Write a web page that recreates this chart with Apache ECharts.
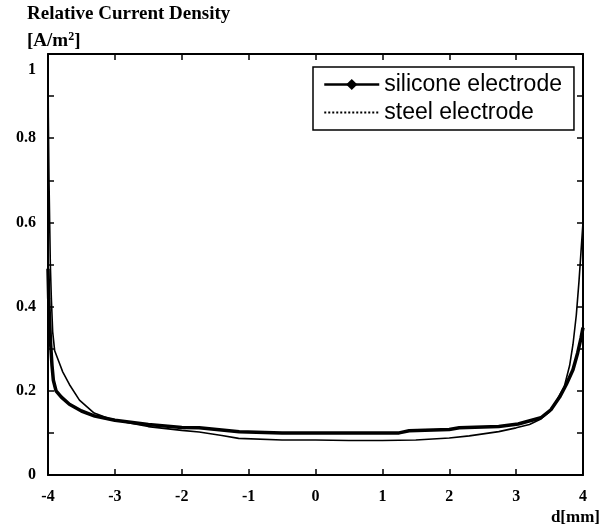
<!DOCTYPE html>
<html>
<head>
<meta charset="utf-8">
<script src="https://cdn.jsdelivr.net/npm/echarts@6/dist/echarts.min.js"></script>
<style>
html,body{margin:0;padding:0;background:#fff;}
#chart{width:603px;height:529px;}
</style>
</head>
<body>
<div id="chart"></div>
<script>
// Data
var siliconeX = [-4.00,-3.995,-3.985,-3.975,-3.965,-3.95,-3.93,-3.90,-3.84,-3.78,-3.68,-3.53,-3.31,-3.1,-2.8,-2.5,-2.0,-1.74,-1.4,-1.15,-0.5,0,0.5,1.0,1.5,2.0,2.3,2.74,3.0,3.2,3.37,3.5,3.6,3.72,3.80,3.85,3.90,3.94,3.97,4.0];
var siliconeY = [1.0,0.85,0.7,0.6,0.5,0.42,0.34,0.295,0.27,0.245,0.215,0.178,0.147,0.135,0.124,0.115,0.106,0.102,0.094,0.087,0.083,0.083,0.082,0.082,0.083,0.088,0.093,0.103,0.112,0.12,0.133,0.15,0.175,0.21,0.26,0.31,0.38,0.46,0.53,0.6];
var steelX = [-4.00,-3.99,-3.975,-3.96,-3.94,-3.92,-3.88,-3.80,-3.68,-3.5,-3.3,-3.0,-2.5,-2.0,-1.74,-1.14,-0.5,0,0.5,1.25,1.4,2.0,2.15,2.74,3.03,3.37,3.52,3.65,3.75,3.85,3.92,3.97,4.0];
var steelY = [0.49,0.42,0.36,0.31,0.26,0.225,0.2,0.185,0.168,0.152,0.14,0.13,0.12,0.113,0.112,0.103,0.1,0.1,0.1,0.1,0.105,0.108,0.112,0.115,0.121,0.136,0.155,0.185,0.215,0.25,0.29,0.325,0.35];
var seriesNames = ['silicone electrode', 'steel electrode'];
var xTicks = [-4, 4, 1];
var yTicks = [0, 1, 0.1];

function pairs(xs, ys){ return xs.map(function(x,i){ return [x, ys[i]]; }); }

var serif = '"Liberation Serif", "Times New Roman", serif';
var sans = '"Liberation Sans", Arial, sans-serif';

var chart = echarts.init(document.getElementById('chart'));
var axisLine = {show:true, onZero:false, lineStyle:{color:'#000', width:2}};
var tick = {show:true, inside:true, length:6, lineStyle:{color:'#000', width:1.5}};

chart.setOption({
  animation:false,
  backgroundColor:'#fff',
  grid:{left:48, right:20, top:54, bottom:54, containLabel:false},
  legend:{
    orient:'vertical', left:313, top:67,
    padding:[6,12,6,10],
    itemWidth:55, itemHeight:14, itemGap:5,
    borderColor:'#000', borderWidth:1.5, backgroundColor:'#fff',
    textStyle:{fontFamily:sans, fontSize:23, color:'#000'},
    data:[
      {name:seriesNames[0], lineStyle:{width:2.5, color:'#000', type:'solid'}, itemStyle:{color:'#000'}},
      {name:seriesNames[1], lineStyle:{width:2, color:'#000', type:'dotted', opacity:1}, itemStyle:{opacity:0}}
    ]
  },
  xAxis:[
    {type:'value', min:xTicks[0], max:xTicks[1], interval:xTicks[2], position:'bottom',
     axisLine:axisLine, axisTick:tick, splitLine:{show:false},
     axisLabel:{color:'#000', fontFamily:serif, fontWeight:'bold', fontSize:16, margin:14}},
    {type:'value', min:xTicks[0], max:xTicks[1], interval:xTicks[2], position:'top',
     axisLine:axisLine, axisTick:tick, splitLine:{show:false}, axisLabel:{show:false}}
  ],
  yAxis:[
    {type:'value', min:yTicks[0], max:yTicks[1], interval:yTicks[2], position:'left',
     axisLine:axisLine, axisTick:tick, splitLine:{show:false},
     axisLabel:{color:'#000', fontFamily:serif, fontWeight:'bold', fontSize:16, margin:12,
       formatter:function(v){
         var k = Math.round(v*10);
         if (k % 2) return '';
         if (k === 10) return '{one|1}';
         return k === 0 ? '0' : (k/10).toFixed(1);
       },
       rich:{one:{fontFamily:serif, fontWeight:'bold', fontSize:16, color:'#000', padding:[32,0,0,0]}}
     }},
    {type:'value', min:yTicks[0], max:yTicks[1], interval:yTicks[2], position:'right',
     axisLine:axisLine, axisTick:tick, splitLine:{show:false}, axisLabel:{show:false}}
  ],
  series:[
    {name:seriesNames[0], type:'line', data:pairs(siliconeX, siliconeY),
     symbol:'diamond', symbolSize:9, showSymbol:false,
     lineStyle:{color:'#000', width:1.6}, itemStyle:{color:'#000'}},
    {name:seriesNames[1], type:'line', data:pairs(steelX, steelY),
     symbol:'none', showSymbol:false,
     lineStyle:{color:'#000', width:3.5}, itemStyle:{color:'#000'}}
  ],
  graphic:[
    {type:'text', left:27, top:5, style:{text:'Relative Current Density', font:'bold 19px ' + serif, fill:'#000'}},
    {type:'text', left:27, top:31, style:{
      text:'{a|[A/m}{s|2}{a|]}',
      rich:{a:{font:'bold 19px ' + serif, fill:'#000'}, s:{font:'bold 12px ' + serif, fill:'#000', verticalAlign:'top', padding:[0,0,8,0]}}
    }},
    {type:'text', right:3, bottom:3, style:{text:'d[mm]', font:'bold 17px ' + serif, fill:'#000'}}
  ]
});
</script>
</body>
</html>
